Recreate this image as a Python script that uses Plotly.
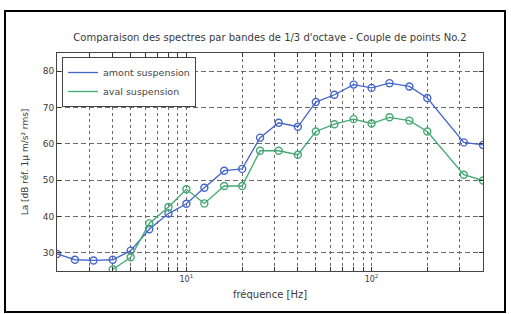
import plotly.graph_objects as go

freq_amont = [2, 2.5, 3.15, 4, 5, 6.3, 8, 10, 12.5, 16, 20, 25, 31.5, 40, 50, 63, 80, 100, 125, 160, 200, 315, 400]
amont = [29.7, 28.1, 27.9, 28.1, 30.6, 36.5, 40.8, 43.5, 47.9, 52.6, 53.1, 61.7, 65.8, 64.7, 71.5, 73.5, 76.3, 75.4, 76.7, 75.8, 72.6, 60.4, 59.7]

freq_aval = [4, 5, 6.3, 8, 10, 12.5, 16, 20, 25, 31.5, 40, 50, 63, 80, 100, 125, 160, 200, 315, 400]
aval = [25.4, 28.8, 38.1, 42.6, 47.5, 43.6, 48.4, 48.4, 58.1, 58.1, 57.0, 63.4, 65.4, 66.8, 65.6, 67.3, 66.4, 63.4, 51.5, 49.9]

x_major = [10, 100]
x_major_labels = ["10<sup>1</sup>", "10<sup>2</sup>"]
x_minor = [2, 3, 4, 5, 6, 7, 8, 9, 20, 30, 40, 50, 60, 70, 80, 90, 200, 300, 400]
y_ticks = [30, 40, 50, 60, 70, 80]

blue = "#4466cc"
green = "#44a872"
txt = "#3a3a3a"
FONT = "DejaVu Sans, sans-serif"

fig = go.Figure()
fig.add_trace(go.Scatter(x=freq_amont, y=amont, mode="lines+markers", showlegend=False,
                         line=dict(color=blue, width=1.3),
                         marker=dict(symbol="circle-open", size=7, color=blue, line=dict(width=1.4))))
fig.add_trace(go.Scatter(x=freq_aval, y=aval, mode="lines+markers", showlegend=False,
                         line=dict(color=green, width=1.3),
                         marker=dict(symbol="circle-open", size=7, color=green, line=dict(width=1.4))))
fig.add_trace(go.Scatter(x=[None], y=[None], mode="lines", name="amont suspension",
                         line=dict(color=blue, width=1.3)))
fig.add_trace(go.Scatter(x=[None], y=[None], mode="lines", name="aval suspension",
                         line=dict(color=green, width=1.3)))

W, H = 511, 314
L, R, T, B = 57, 28, 53, 43
pw, ph = W - L - R, H - T - B

def px_x(x):
    return (x - L) / pw

def px_y(y):
    return (H - B - y) / ph

fig.update_layout(
    width=W, height=H,
    margin=dict(l=L, r=R, t=T, b=B),
    paper_bgcolor="white", plot_bgcolor="white",
    font=dict(family=FONT, size=9, color=txt),
    title=dict(text="Comparaison des spectres par bandes de 1/3 d'octave - Couple de points No.2",
               x=(270 / W), xanchor="center", y=1 - 37 / H, yanchor="middle",
               font=dict(size=10, color=txt)),
    legend=dict(x=px_x(62), y=px_y(57), xanchor="left", yanchor="top", bgcolor="white",
                bordercolor="#444444", borderwidth=1, font=dict(size=9.5, color="#444444"),
                itemwidth=30, tracegroupgap=0),
    shapes=[dict(type="rect", xref="paper", yref="paper",
                 x0=px_x(5), x1=px_x(505), y0=px_y(312), y1=px_y(11),
                 line=dict(color="black", width=2))],
)
fig.update_xaxes(
    type="log", range=[0.301, 2.602],
    tickmode="array", tickvals=x_major, ticktext=x_major_labels,
    ticks="inside", ticklen=4, tickcolor="#333333", mirror="ticks",
    showline=True, linecolor="#444444", linewidth=1,
    showgrid=True, gridcolor="#6a6a6a", griddash="3px,3px", gridwidth=0.7,
    minor=dict(tickmode="array", tickvals=x_minor, ticks="inside", ticklen=4, tickcolor="#333333",
               showgrid=True, gridcolor="#6a6a6a", griddash="3px,3px", gridwidth=0.7),
    title=dict(text="fréquence [Hz]", font=dict(size=10), standoff=8),
    tickfont=dict(size=8), zeroline=False,
)
fig.update_yaxes(
    range=[25, 85], tickvals=y_ticks,
    ticks="inside", ticklen=4, tickcolor="#333333", mirror="ticks",
    showline=True, linecolor="#444444", linewidth=1,
    showgrid=True, gridcolor="#6a6a6a", griddash="5px,3px", gridwidth=0.7,
    title=dict(text="La [dB réf. 1µ m/s² rms]", font=dict(size=9), standoff=12),
    tickfont=dict(size=9), zeroline=False,
)

fig.write_html("out.html", config={"displayModeBar": False},
               post_script="document.body.style.margin='0';document.body.style.padding='0';")
